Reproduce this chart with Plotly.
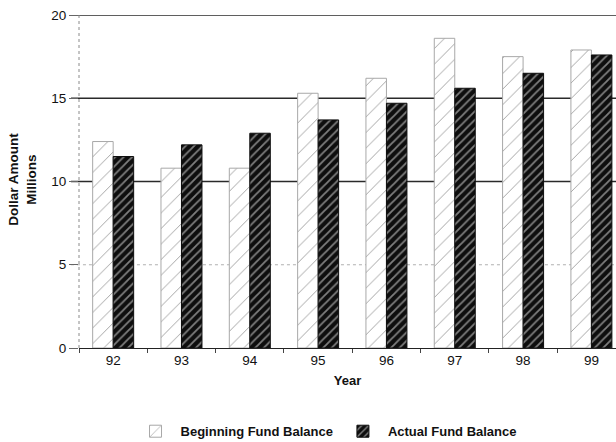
import plotly.graph_objects as go

years = ["92", "93", "94", "95", "96", "97", "98", "99"]
beginning = [12.4, 10.8, 10.8, 15.3, 16.2, 18.6, 17.5, 17.9]
actual = [11.5, 12.2, 12.9, 13.7, 14.7, 15.6, 16.5, 17.6]
y_ticks = [0, 5, 10, 15, 20]

W, H = 616, 442
ML, MR, MT, MB = 79, 0, 15, 94
font_family = "Liberation Sans, Arial, sans-serif"

fig = go.Figure()
fig.add_trace(go.Bar(
    name="Beginning Fund Balance", x=years, y=beginning,
    marker=dict(
        color="white",
        line=dict(color="#a8a8a8", width=1),
        pattern=dict(shape="/", fgcolor="#9a9a9a", bgcolor="white",
                     size=11, solidity=0.08, fillmode="replace"),
    ),
))
fig.add_trace(go.Bar(
    name="Actual Fund Balance", x=years, y=actual,
    marker=dict(
        color="#0e0e0e",
        line=dict(color="#0e0e0e", width=1),
        pattern=dict(shape="/", fgcolor="#7e7e7e", bgcolor="#0e0e0e",
                     size=6, solidity=0.3, fillmode="replace"),
    ),
))

# horizontal reference lines behind the bars
for v in y_ticks[1:]:
    dotted = v == 5
    fig.add_shape(type="line", xref="paper", yref="y", x0=-0.015, x1=1, y0=v, y1=v,
                  layer="below",
                  line=dict(color="#b0b0b0" if dotted else "#2a2a2a",
                            width=1 if dotted else 1.3,
                            dash="dot" if dotted else "solid"))

# dotted value axis
fig.add_shape(type="line", xref="paper", yref="y", x0=0, x1=0,
              y0=y_ticks[0], y1=y_ticks[-1], layer="below",
              line=dict(color="#8a8a8a", width=1, dash="dot"))

fig.add_annotation(text="<b>Dollar Amount<br>Millions</b>", textangle=-90,
                   xref="paper", yref="paper", x=-(ML - 23) / (W - ML - MR), y=0.505,
                   xanchor="center", yanchor="middle", showarrow=False,
                   font=dict(family=font_family, size=13.5, color="#111"))

fig.update_layout(
    width=W, height=H,
    margin=dict(l=ML, r=MR, t=MT, b=MB, autoexpand=False),
    paper_bgcolor="white", plot_bgcolor="white",
    barmode="group", bargap=0.4, bargroupgap=0.0,
    font=dict(family=font_family, size=13, color="#111"),
    showlegend=True,
    legend=dict(orientation="h", x=0.46, xanchor="center", y=-0.205, yanchor="top",
                font=dict(family=font_family, size=13, color="#111", weight="bold"),
                itemwidth=40, traceorder="normal"),
    xaxis=dict(
        range=[-0.5, 7.36], showgrid=False, automargin=False,
        showline=True, linecolor="#222", linewidth=1.3,
        ticks="outside", tickson="boundaries", ticklen=4, tickcolor="#444",
        tickfont=dict(size=13.5),
        title=dict(text="<b>Year</b>", standoff=8, font=dict(size=13)),
    ),
    yaxis=dict(
        range=[0, 20], tickvals=y_ticks, showgrid=False, zeroline=False,
        showline=False, automargin=False,
        ticks="outside", ticklen=9, tickcolor="#666",
        tickfont=dict(size=13.5),
    ),
)

fig.write_html("out.html")
